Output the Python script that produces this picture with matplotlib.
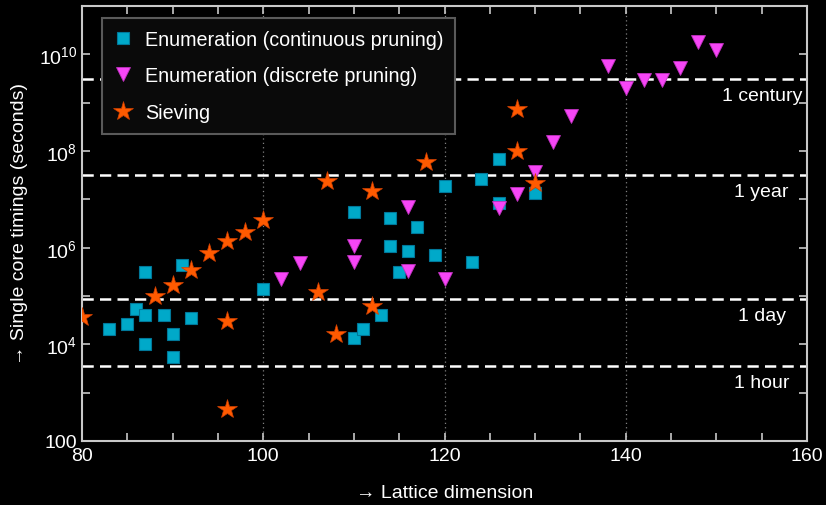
import matplotlib
matplotlib.use("Agg")
import matplotlib.pyplot as plt
import numpy as np

plt.rcParams['font.family'] = ['Liberation Sans', 'DejaVu Sans']
plt.rcParams['mathtext.fontset'] = 'custom'
plt.rcParams['mathtext.rm'] = 'Liberation Sans'
plt.rcParams['mathtext.it'] = 'Liberation Sans:italic'

# Enumeration (continuous pruning)
cont_dim = [83, 85, 86, 87, 87, 87, 89, 90, 90, 91, 92, 100, 110, 110, 111, 113,
            114, 114, 115, 116, 117, 119, 120, 123, 124, 126, 126, 130]
cont_t = [2.05e4, 2.6e4, 5.4e4, 3.2e5, 4e4, 1.03e4, 4e4, 1.6e4, 5.4e3, 4.3e5, 3.5e4,
          1.4e5, 5.4e6, 1.33e4, 2.1e4, 4e4, 4.2e6, 1.1e6, 3.2e5, 8.7e5, 2.7e6, 7.1e5,
          1.9e7, 5.1e5, 2.6e7, 6.8e7, 8.5e6, 1.35e7]

# Enumeration (discrete pruning)
disc_dim = [102, 104, 110, 110, 116, 116, 120, 126, 128, 130, 132, 134, 138, 140,
            142, 144, 146, 148, 150]
disc_t = [2.3e5, 4.8e5, 1.1e6, 5e5, 7e6, 3.3e5, 2.2e5, 6.5e6, 1.27e7, 3.7e7, 1.5e8,
          5.3e8, 5.8e9, 2.05e9, 2.9e9, 2.9e9, 5.3e9, 1.8e10, 1.25e10]

# Sieving
siev_dim = [80, 88, 90, 92, 94, 96, 96, 96, 98, 100, 106, 107, 108, 112, 112, 118,
            128, 128, 130]
siev_t = [3.7e4, 1e5, 1.7e5, 3.5e5, 7.8e5, 1.35e6, 3.1e4, 470, 2.1e6, 3.7e6, 1.23e5,
          2.4e7, 1.67e4, 1.5e7, 6.2e4, 6e7, 7.5e8, 1e8, 2.2e7]

# reference durations in seconds
ref_names = ['1 hour', '1 day', '1 year', '1 century']
ref_secs = [3600, 86400, 3.156e7, 3.156e9]

fig = plt.figure(figsize=(8.26, 5.06), dpi=100, facecolor='black')
ax = fig.add_axes([82/826, 1-442/506, 725/826, 435/506])
ax.set_facecolor('black')

xmin, xmax = 80, 160
ax.set_xlim(xmin, xmax)
ax.set_ylim(1e2, 1e11)
ax.set_yscale('log')

for xv in [100, 120, 140]:
    ax.axvline(xv, color='#808080', linestyle=(0, (1, 2.5)), linewidth=0.9, zorder=1)

for name, s in zip(ref_names, ref_secs):
    ax.axhline(s, color='white', linestyle=(0, (4.5, 2.5)), linewidth=1.8, zorder=2)
    ax.text(155, s / 10**0.17, name, color='white', fontsize=14, ha='center', va='top', zorder=3)

ax.plot(cont_dim, cont_t, linestyle='none', marker='s', markersize=8,
        color='#00a9c9', markeredgecolor='#00789a', markeredgewidth=0.8,
        label='Enumeration (continuous pruning)', zorder=4)
ax.plot(disc_dim, disc_t, linestyle='none', marker='v', markersize=10,
        color='#f646f6', markeredgecolor='#c030c0', markeredgewidth=0.6,
        label='Enumeration (discrete pruning)', zorder=4)
ax.plot(siev_dim, siev_t, linestyle='none', marker='*', markersize=15,
        color='#ff5a00', markeredgecolor='#d04000', markeredgewidth=0.5,
        label='Sieving', zorder=5, clip_on=True)

ax.set_xticks(np.arange(80, 161, 20))
ax.set_xticks(np.arange(80, 161, 5), minor=True)
yt = [10.0**k for k in range(2, 12)]
ylab = []
for k in range(2, 12):
    if k == 2:
        ylab.append('100')
    elif k % 2 == 0 and k < 11:
        ylab.append(r'$\mathregular{10^{%d}}$' % k)
    else:
        ylab.append('')
ax.set_yticks(yt)
ax.set_yticklabels(ylab)
ax.yaxis.set_minor_locator(matplotlib.ticker.NullLocator())

ax.tick_params(axis='both', which='both', direction='in', colors='#c8c8c8',
               labelcolor='white', top=True, right=True, labelsize=14, width=1.2)
ax.tick_params(axis='both', which='major', length=6)
ax.tick_params(axis='x', which='minor', length=6)
ax.tick_params(axis='x', pad=4)
for sp in ax.spines.values():
    sp.set_color('#c8c8c8')
    sp.set_linewidth(1.5)

ax.set_xlabel('\u2192 Lattice dimension', color='white', fontsize=14, labelpad=15)
ax.set_ylabel('\u2192 Single core timings (seconds)', color='white', fontsize=14, labelpad=8)

leg = ax.legend(loc='upper left', bbox_to_anchor=(0.027, 0.972), fontsize=14.2,
                frameon=True, fancybox=False, labelspacing=0.88, handlelength=1.0,
                handletextpad=0.6, borderpad=0.6, borderaxespad=0.0)
leg.get_frame().set_facecolor('#0a0a0a')
leg.get_frame().set_edgecolor('#5a5a5a')
leg.get_frame().set_linewidth(1.5)
leg.get_frame().set_alpha(1.0)
for t in leg.get_texts():
    t.set_color('white')

plt.savefig('out.png', dpi=100, facecolor='black')
